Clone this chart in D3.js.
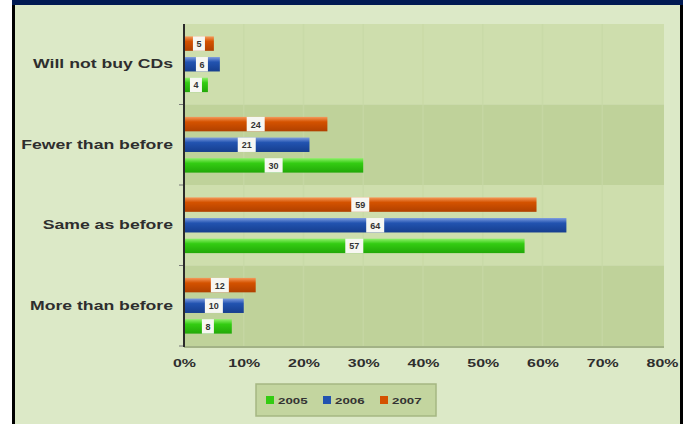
<!doctype html>
<html lang="en">
<head>
  <meta charset="utf-8">
  <title>CD buying intentions</title>
  <script src="https://cdn.jsdelivr.net/npm/d3@7/dist/d3.min.js"></script>
  <style>
    body { margin: 0; background: #fff; }
    svg { display: block; font-family: "Liberation Sans", Arial, sans-serif; font-weight: bold; }
  </style>
</head>
<body>
<svg id="chart" width="692" height="424"></svg>
<script>
  // data, top to bottom as drawn
  var categories = ["Will not buy CDs", "Fewer than before", "Same as before", "More than before"];
  var years = ["2007", "2006", "2005"];
  var v2005 = [4, 30, 57, 8];
  var v2006 = [6, 21, 64, 10];
  var v2007 = [5, 24, 59, 12];
  var xTicks = [0, 10, 20, 30, 40, 50, 60, 70, 80];
  var legendYears = ["2005", "2006", "2007"];

  var seriesValues = { "2005": v2005, "2006": v2006, "2007": v2007 };
  var colors = {
    "2005": { top: "#8ef06a", mid: "#33cc12", bot: "#22a808" },
    "2006": { top: "#7d9ce0", mid: "#2253b0", bot: "#163e8e" },
    "2007": { top: "#f59a5c", mid: "#d45200", bot: "#b04000" }
  };

  var svg = d3.select("#chart");

  // frame
  svg.append("rect").attr("x", 12).attr("y", 0).attr("width", 671).attr("height", 424).attr("fill", "#dce9c7");
  svg.append("rect").attr("x", 12).attr("y", 0).attr("width", 671).attr("height", 5).attr("fill", "#001a52");
  svg.append("rect").attr("x", 12).attr("y", 5).attr("width", 3).attr("height", 419).attr("fill", "#000");
  svg.append("rect").attr("x", 680).attr("y", 5).attr("width", 3).attr("height", 419).attr("fill", "#000");

  var defs = svg.append("defs");
  Object.keys(colors).forEach(function(k) {
    var g = defs.append("linearGradient").attr("id", "g" + k)
      .attr("x1", 0).attr("y1", 0).attr("x2", 0).attr("y2", 1);
    g.append("stop").attr("offset", "0%").attr("stop-color", colors[k].top);
    g.append("stop").attr("offset", "35%").attr("stop-color", colors[k].mid);
    g.append("stop").attr("offset", "100%").attr("stop-color", colors[k].bot);
  });

  var x = d3.scaleLinear().domain([0, 80]).range([184, 662]);
  var y = d3.scaleBand().domain(categories).range([24, 346]).paddingInner(0).paddingOuter(0);
  var yInner = d3.scaleBand().domain(years).range([0, y.bandwidth()]).paddingInner(0.3).paddingOuter(0.6);

  // plot bands
  svg.append("g").selectAll("rect").data(categories).join("rect")
    .attr("x", x(0)).attr("y", function(d) { return y(d); })
    .attr("width", x(80) - x(0) + 2).attr("height", y.bandwidth())
    .attr("fill", function(d, i) { return i % 2 == 0 ? "#cedead" : "#bfd29a"; });

  // faint vertical gridlines
  svg.append("g").selectAll("line").data(xTicks.slice(1, -1)).join("line")
    .attr("x1", function(d) { return x(d); }).attr("x2", function(d) { return x(d); })
    .attr("y1", 24).attr("y2", 346)
    .attr("stroke", "#c8d9a6").attr("stroke-width", 1.5).attr("opacity", 0.7);

  // bottom edge shadow
  svg.append("line").attr("x1", x(0)).attr("x2", x(80) + 2).attr("y1", 347).attr("y2", 347)
    .attr("stroke", "#8f9f70").attr("stroke-width", 1.5);

  // category groups
  var groups = svg.append("g").selectAll("g").data(categories).join("g")
    .attr("transform", function(d) { return "translate(0," + y(d) + ")"; });

  groups.each(function(cat, ci) {
    var g = d3.select(this);
    years.forEach(function(yr) {
      var val = seriesValues[yr][ci];
      var yy = yInner(yr);
      var h = yInner.bandwidth();
      g.append("rect")
        .attr("x", x(0)).attr("y", yy)
        .attr("width", x(val) - x(0)).attr("height", h)
        .attr("fill", "url(#g" + yr + ")");
      var cx = (x(0) + x(val)) / 2;
      var w = String(val).length > 1 ? 18 : 12;
      g.append("rect")
        .attr("x", cx - w / 2).attr("y", yy).attr("width", w).attr("height", h)
        .attr("fill", "#f7f7f2");
      g.append("text")
        .attr("x", cx).attr("y", yy + h / 2 + 3.5)
        .attr("text-anchor", "middle").attr("font-size", 9).attr("fill", "#333")
        .text(val);
    });
  });

  // left axis
  var yAxis = svg.append("g").attr("transform", "translate(" + x(0) + ",0)")
    .call(d3.axisLeft(y).tickSize(0).tickPadding(0));
  yAxis.select(".domain").remove();
  yAxis.selectAll("text")
    .attr("x", 0).attr("dy", "0.35em")
    .attr("font-size", 12).attr("font-family", "Liberation Sans, Arial, sans-serif")
    .attr("font-weight", "bold").attr("fill", "#2e2e2e")
    .attr("transform", "translate(-11,0) scale(1.47,1)");

  svg.append("g").selectAll("line").data(categories.slice(1).concat(["end"])).join("line")
    .attr("x1", x(0) - 5).attr("x2", x(0))
    .attr("y1", function(d) { return d == "end" ? 346 : y(d); })
    .attr("y2", function(d) { return d == "end" ? 346 : y(d); })
    .attr("stroke", "#777").attr("stroke-width", 1);

  svg.append("line").attr("x1", x(0)).attr("x2", x(0)).attr("y1", 24).attr("y2", 347)
    .attr("stroke", "#2a2a2a").attr("stroke-width", 2);

  // bottom axis
  var xAxis = svg.append("g").attr("transform", "translate(0,357)")
    .call(d3.axisBottom(x).tickValues(xTicks).tickFormat(function(d) { return d + "%"; }).tickSize(0).tickPadding(0));
  xAxis.select(".domain").remove();
  xAxis.selectAll("text")
    .attr("y", 0).attr("dy", "0.9em")
    .attr("font-size", 11).attr("font-family", "Liberation Sans, Arial, sans-serif")
    .attr("font-weight", "bold").attr("fill", "#2e2e2e")
    .attr("transform", "scale(1.45,1)");

  // legend
  var lg = svg.append("g");
  lg.append("rect").attr("x", 256).attr("y", 384).attr("width", 180).attr("height", 32)
    .attr("fill", "#c3d59f").attr("stroke", "#a5b782").attr("stroke-width", 1.5);
  var lx = d3.scalePoint().domain(legendYears).range([270, 384]);
  var items = lg.selectAll("g").data(legendYears).join("g")
    .attr("transform", function(d) { return "translate(" + lx(d) + ",400)"; });
  items.append("rect").attr("x", -4).attr("y", -4).attr("width", 8).attr("height", 8)
    .attr("fill", function(d) { return colors[d].mid; });
  items.append("text").attr("x", 0).attr("y", 3.5)
    .attr("font-size", 9.5).attr("fill", "#333")
    .attr("transform", "translate(8,0) scale(1.4,1)")
    .text(function(d) { return d; });
</script>
</body>
</html>
